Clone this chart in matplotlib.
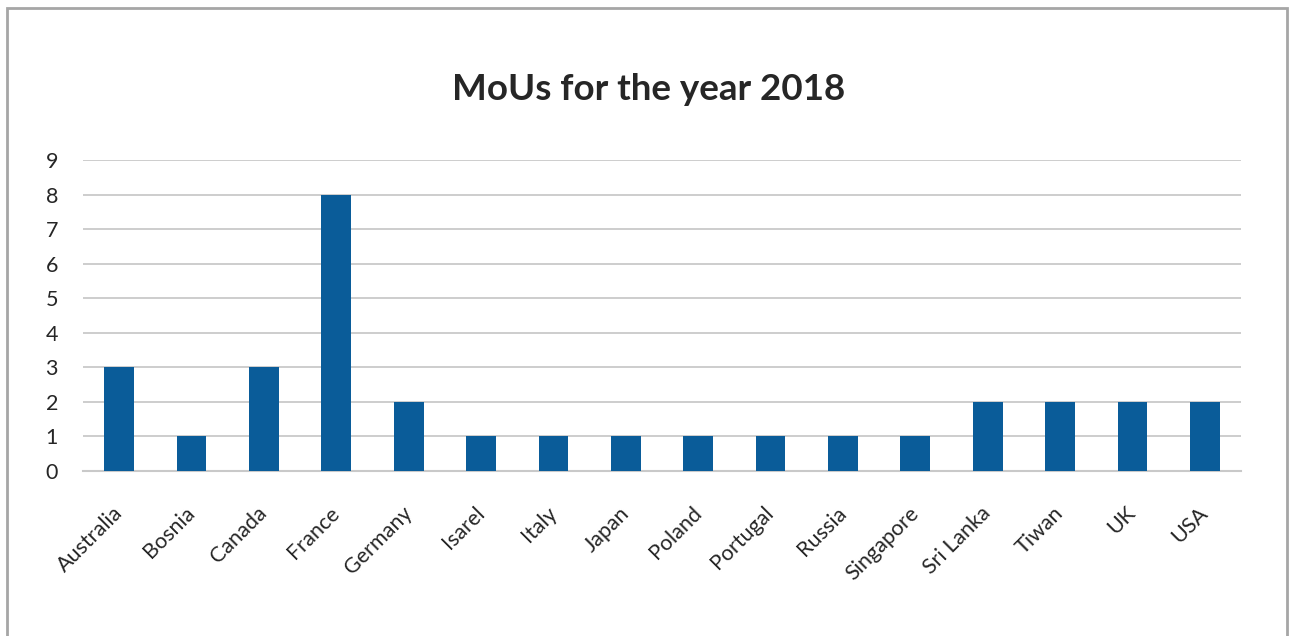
import matplotlib.pyplot as plt
from matplotlib.patches import Rectangle
import numpy as np

countries = ['Australia', 'Bosnia', 'Canada', 'France', 'Germany', 'Isarel', 'Italy',
             'Japan', 'Poland', 'Portugal', 'Russia', 'Singapore', 'Sri Lanka',
             'Tiwan', 'UK', 'USA']
mous = [3, 1, 3, 8, 2, 1, 1, 1, 1, 1, 1, 1, 2, 2, 2, 2]

plt.rcParams['font.family'] = ['Lato', 'DejaVu Sans']

W, H = 1289, 636
fig = plt.figure(figsize=(W / 100, H / 100), dpi=100)
ax = fig.add_axes([83 / W, 1 - 471 / H, (1241 - 83) / W, (471 - 160) / H])

x = np.arange(len(countries))
ax.bar(x, mous, width=0.41, color='#0A5C99', zorder=3)

ax.set_xlim(-0.5, len(countries) - 0.5)
ax.set_ylim(0, 9)
ax.set_yticks(range(10))
ax.yaxis.grid(True, color='#C9C9C9', linewidth=1.3, zorder=0)
for s in ['top', 'right', 'left']:
    ax.spines[s].set_visible(False)
ax.spines['bottom'].set_color('#C9C9C9')
ax.spines['bottom'].set_linewidth(1.5)

ax.set_xticks(x)
ax.set_xticklabels(countries, rotation=45, ha='right', va='center',
                   rotation_mode='anchor')
ax.tick_params(axis='x', length=0, pad=28, labelsize=15.5, labelcolor='#262626')
ax.tick_params(axis='y', length=0, pad=18, labelsize=15.5, labelcolor='#262626')

fig.text(649 / W, 1 - 90 / H, 'MoUs for the year 2018', ha='center', va='center',
         fontsize=26.5, fontweight='bold', color='#262626')

# outer chart border (bottom edge runs off the canvas)
fig.patches.append(Rectangle((7 / W, -0.05), (1287 - 7) / W, 1.05 - 8 / H,
                             transform=fig.transFigure, fill=False,
                             edgecolor='#A6A6A6', linewidth=2))

fig.savefig('out.png', dpi=100)
